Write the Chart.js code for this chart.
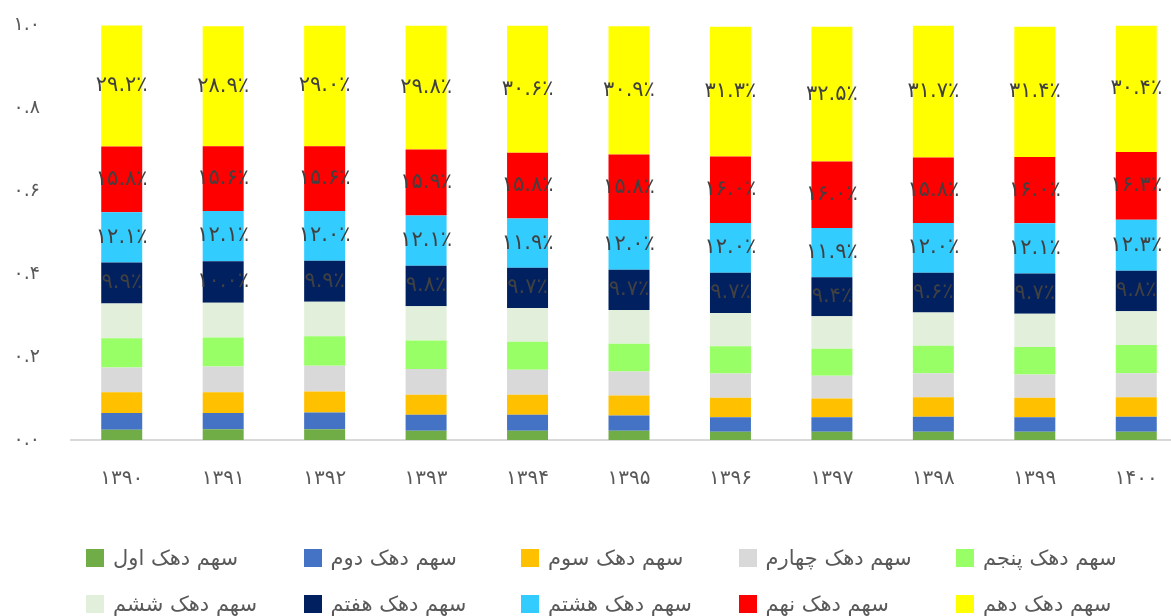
<!DOCTYPE html>
<html lang="fa">
<head>
<meta charset="utf-8">
<title>سهم دهک‌ها</title>
<script src="https://cdn.jsdelivr.net/npm/chart.js@4.4.1/dist/chart.umd.min.js"></script>
<style>
  html, body { margin: 0; padding: 0; background: #ffffff; }
  body { width: 1171px; height: 616px; overflow: hidden; position: relative; }
  #wrap { position: absolute; left: 0; top: 0; width: 1187px; height: 616px; }
  #legend {
    position: absolute; left: 86px; top: 546px;
    display: grid; grid-template-columns: repeat(5, 217.5px); row-gap: 22px;
    font-family: "DejaVu Sans", sans-serif; font-size: 21px; color: #595959;
  }
  .item { display: flex; align-items: center; height: 24px; white-space: nowrap; }
  .box { width: 18px; height: 18px; margin-right: 9px; flex: none; }
</style>
</head>
<body>
<div id="wrap"><canvas id="chart" width="1187" height="616"></canvas></div>
<div id="legend"></div>
<script>
// Years (Persian calendar)
const years = ['1390', '1391', '1392', '1393', '1394', '1395', '1396', '1397', '1398', '1399', '1400'];

// Decile names
const decileNames = [
  'سهم دهک اول', 'سهم دهک دوم', 'سهم دهک سوم', 'سهم دهک چهارم', 'سهم دهک پنجم',
  'سهم دهک ششم', 'سهم دهک هفتم', 'سهم دهک هشتم', 'سهم دهک نهم', 'سهم دهک دهم'
];

// Share of each decile per year (fraction of total)
const decile1  = [0.025, 0.026, 0.026, 0.022, 0.022, 0.022, 0.020, 0.020, 0.020, 0.020, 0.020];
const decile2  = [0.040, 0.039, 0.040, 0.039, 0.039, 0.037, 0.035, 0.035, 0.036, 0.035, 0.036];
const decile3  = [0.050, 0.050, 0.051, 0.048, 0.048, 0.048, 0.047, 0.045, 0.047, 0.047, 0.047];
const decile4  = [0.060, 0.062, 0.062, 0.062, 0.060, 0.058, 0.058, 0.055, 0.058, 0.056, 0.058];
const decile5  = [0.070, 0.070, 0.071, 0.069, 0.068, 0.067, 0.066, 0.065, 0.066, 0.066, 0.068];
const decile6  = [0.084, 0.084, 0.083, 0.082, 0.081, 0.081, 0.080, 0.078, 0.080, 0.080, 0.081];
const decile7  = [0.099, 0.100, 0.099, 0.098, 0.097, 0.097, 0.097, 0.094, 0.096, 0.097, 0.098];
const decile8  = [0.121, 0.121, 0.120, 0.121, 0.119, 0.120, 0.120, 0.119, 0.120, 0.121, 0.123];
const decile9  = [0.158, 0.156, 0.156, 0.159, 0.158, 0.158, 0.160, 0.160, 0.158, 0.160, 0.163];
const decile10 = [0.292, 0.289, 0.290, 0.298, 0.306, 0.309, 0.313, 0.325, 0.317, 0.314, 0.304];

// Y axis ticks
const yTicks = [0, 0.2, 0.4, 0.6, 0.8, 1.0];

const series = [decile1, decile2, decile3, decile4, decile5, decile6, decile7, decile8, decile9, decile10];
const colors = ['#70AD47', '#4472C4', '#FFC000', '#D9D9D9', '#99FF66',
                '#E2EFDA', '#002060', '#33CCFF', '#FF0000', '#FFFF00'];
// Deciles 7 to 10 carry value labels
const labelled = [false, false, false, false, false, false, true, true, true, true];

const faDigits = '۰۱۲۳۴۵۶۷۸۹';
const toFa = s => String(s).replace(/[0-9]/g, d => faDigits[d]);

const FONT = '"DejaVu Sans", sans-serif';

const segmentLabels = {
  id: 'segmentLabels',
  afterDatasetsDraw(chart) {
    const ctx = chart.ctx;
    ctx.save();
    ctx.font = '21px ' + FONT;
    ctx.fillStyle = '#404040';
    ctx.textAlign = 'center';
    ctx.textBaseline = 'middle';
    chart.data.datasets.forEach((ds, i) => {
      if (!ds.showValue) return;
      chart.getDatasetMeta(i).data.forEach((bar, j) => {
        const p = bar.getProps(['x', 'y', 'base'], true);
        const txt = toFa((ds.data[j] * 100).toFixed(1)) + '٪';
        ctx.fillText(txt, p.x, (p.y + p.base) / 2);
      });
    });
    ctx.restore();
  }
};

const chart = new Chart(document.getElementById('chart'), {
  type: 'bar',
  data: {
    labels: years.map(toFa),
    datasets: series.map((data, i) => ({
      label: decileNames[i],
      data: data,
      backgroundColor: colors[i],
      borderWidth: 0,
      barPercentage: 0.404,
      categoryPercentage: 1.0,
      showValue: labelled[i]
    }))
  },
  options: {
    responsive: false,
    animation: false,
    devicePixelRatio: 1,
    layout: { padding: { top: 25, left: 0, right: 0, bottom: 0 } },
    plugins: { legend: { display: false }, tooltip: { enabled: false } },
    scales: {
      x: {
        stacked: true,
        grid: { display: false, drawTicks: false },
        border: { display: true, color: '#D9D9D9', width: 2 },
        ticks: { color: '#595959', font: { family: FONT, size: 20 }, padding: 27, maxRotation: 0 },
        afterFit: s => { s.height = 176; }
      },
      y: {
        stacked: true,
        min: 0, max: 1,
        afterBuildTicks: s => { s.ticks = yTicks.map(v => ({ value: v })); },
        grid: { display: false, drawTicks: false },
        border: { display: false },
        ticks: {
          color: '#595959', font: { family: FONT, size: 19 }, padding: 31,
          callback: v => toFa(Number(v).toFixed(1))
        },
        afterFit: s => { s.width = 71; s.paddingTop = 12; s.paddingBottom = 12; }
      }
    }
  },
  plugins: [segmentLabels]
});

// Legend grid, two rows of five
const legend = document.getElementById('legend');
chart.data.datasets.forEach(ds => {
  const item = document.createElement('div');
  item.className = 'item';
  const box = document.createElement('span');
  box.className = 'box';
  box.style.background = ds.backgroundColor;
  const text = document.createElement('span');
  text.textContent = ds.label;
  item.appendChild(box);
  item.appendChild(text);
  legend.appendChild(item);
});
</script>
</body>
</html>
